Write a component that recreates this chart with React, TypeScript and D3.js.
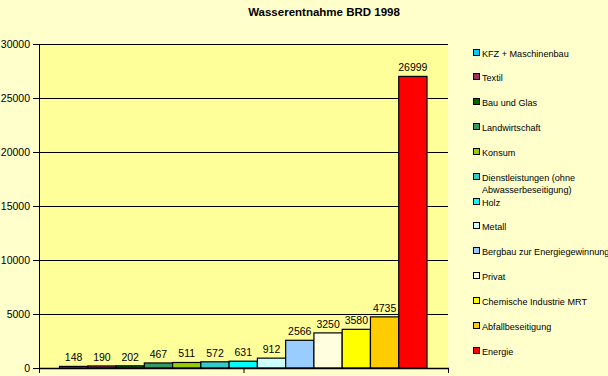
import React from "react";
import * as d3 from "d3";

const categories = [
  "KFZ  + Maschinenbau",
  "Textil",
  "Bau und Glas",
  "Landwirtschaft",
  "Konsum",
  "Dienstleistungen (ohne|Abwasserbeseitigung)",
  "Holz",
  "Metall",
  "Bergbau zur Energiegewinnung",
  "Privat",
  "Chemische Industrie MRT",
  "Abfallbeseitigung",
  "Energie",
];
const values = [148, 190, 202, 467, 511, 572, 631, 912, 2566, 3250, 3580, 4735, 26999];
const colors = [
  "#00CCFF", "#993366", "#006600", "#339966", "#99CC00", "#33CCCC", "#00FFFF",
  "#CCFFFF", "#99CCFF", "#FFFFE0", "#FFFF00", "#FFCC00", "#FF0000",
];
const yTicks = [0, 5000, 10000, 15000, 20000, 25000, 30000];
const title = "Wasserentnahme BRD 1998";

const W = 608, H = 376;
const plot = { x0: 39, x1: 448, y0: 44, y1: 368 };
const font = "'Liberation Sans', Arial, sans-serif";

export default function App() {
  const y = d3.scaleLinear().domain([0, 30000]).range([plot.y1, plot.y0]);
  const x = d3
    .scaleBand<number>()
    .domain(values.map((_, i) => i))
    .range([59.5, 427])
    .padding(0);
  const legendY = [53, 77, 102, 127, 152, 177, 202, 226, 251, 276, 301, 326, 351];
  const mid = (plot.x0 + plot.x1) / 2;
  return (
    <svg
      width={W}
      height={H}
      style={{ position: "absolute", left: 0, top: 0, display: "block" }}
      fontFamily={font}
    >
      <rect x={0} y={0} width={W} height={H} fill="#FFFFCC" />
      <rect x={plot.x0} y={plot.y0} width={plot.x1 - plot.x0} height={plot.y1 - plot.y0} fill="#FFFF99" />
      <text x={324} y={16} textAnchor="middle" fontSize={11.5} fontWeight="bold" fill="#000">
        {title}
      </text>
      {yTicks.map((t) => (
        <g key={t}>
          <line x1={plot.x0} x2={plot.x1} y1={y(t) + 0.5} y2={y(t) + 0.5} stroke="#000" strokeWidth={1} />
          <line x1={plot.x0 - 6} x2={plot.x0} y1={y(t) + 0.5} y2={y(t) + 0.5} stroke="#000" />
          <text x={30} y={y(t) + 4} textAnchor="end" fontSize={10.5} fill="#000">
            {t}
          </text>
        </g>
      ))}
      <line x1={plot.x0 + 0.5} x2={plot.x0 + 0.5} y1={plot.y0} y2={plot.y1 + 1} stroke="#000" />
      {[plot.x0, mid, plot.x1].map((tx, i) => (
        <line key={i} x1={tx + 0.5} x2={tx + 0.5} y1={plot.y1} y2={plot.y1 + 5} stroke="#000" />
      ))}
      {values.map((v, i) => (
        <g key={i}>
          <rect
            x={x(i)!}
            y={y(v)}
            width={x.bandwidth()}
            height={plot.y1 - y(v)}
            fill={colors[i]}
            stroke="#000"
            strokeWidth={1.2}
          />
          <text x={x(i)! + x.bandwidth() / 2} y={y(v) - 5} textAnchor="middle" fontSize={10.5} fill="#000">
            {v}
          </text>
        </g>
      ))}
      <line x1={plot.x0} x2={plot.x1 + 1} y1={plot.y1 + 0.5} y2={plot.y1 + 0.5} stroke="#000" strokeWidth={1.5} />
      {categories.map((c, i) => {
        const lines = c.split("|");
        return (
          <g key={i}>
            <rect x={473.5} y={legendY[i] - 3.5} width={6} height={6} fill={colors[i]} stroke="#000" strokeWidth={1} />
            {lines.map((l, j) => (
              <text key={j} x={482} y={legendY[i] + 3.5 + j * 12} fontSize={9.1} fill="#000">
                {l}
              </text>
            ))}
          </g>
        );
      })}
    </svg>
  );
}
